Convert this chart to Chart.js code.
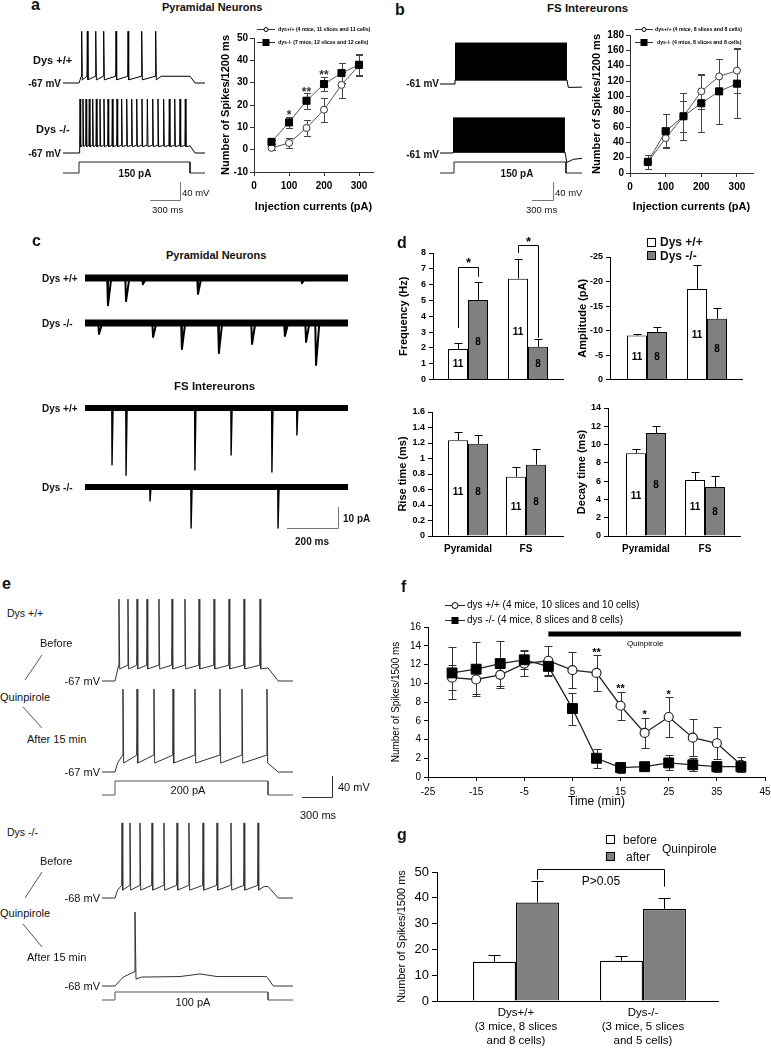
<!DOCTYPE html>
<html><head><meta charset="utf-8">
<script src="https://cdn.jsdelivr.net/npm/chart.js@4.4.1/dist/chart.umd.min.js"></script>
<style>
html,body{margin:0;padding:0;background:#fff;}
body{position:relative;width:771px;height:1049px;overflow:hidden;font-family:"Liberation Sans",Arial,Helvetica,sans-serif;}
canvas{position:absolute;}
.t{position:absolute;white-space:nowrap;line-height:1;color:#111;}
.sq{position:absolute;box-sizing:border-box;border:1px solid #000;width:9px;height:9px;}
svg{position:absolute;left:0;top:0;}
</style></head><body>
<svg width="771" height="1049">
 <g stroke="#777" stroke-width="1" fill="none">
  <path d="M180.5 182 V200.5 H150"/>
  <path d="M553.5 182 V200.5 H532"/>
  <path d="M338.5 507 V528.5 H287"/>
 </g>
 <g stroke="#333" stroke-width="1" fill="none">
  <path d="M332.5 776 V797.5 H302"/>
 </g>
 <g stroke="#555" stroke-width="1" fill="none">
  <line x1="42" y1="655" x2="25" y2="680"/>
  <line x1="23" y1="707" x2="42" y2="728"/>
  <line x1="42" y1="872" x2="25" y2="898"/>
  <line x1="23" y1="924" x2="42" y2="947"/>
 </g>
</svg>
<div class="sq" style="left:647px;top:238px;background:#fff"></div>
<div class="sq" style="left:647px;top:251px;background:#808080"></div>
<div class="sq" style="left:606px;top:835px;background:#fff"></div>
<div class="sq" style="left:606px;top:852px;background:#808080"></div>
<script>
// ================= DATA =================
// (a) pyramidal neurons, spikes / 1200 ms vs injected current
const currentsPA = [50, 100, 150, 200, 250, 300];
const currentTicks = [0, 100, 200, 300];
const pyrWT = [0.8, 3.0, 9.7, 17.9, 29.0, 37.8];
const pyrWTsem = [0.8, 2.3, 3.6, 5.4, 5.7, 4.8];
const pyrKO = [3.5, 12.2, 21.9, 29.4, 34.3, 38.0];
const pyrKOsem = [1.0, 2.5, 3.6, 3.3, 4.5, 4.7];
const pyrYTicks = [-10, 0, 10, 20, 30, 40, 50];
const pyrStars = [[100, 16.7, '*'], [150, 27.2, '**'], [200, 34.9, '**']];
// (b) FS interneurons
const fsWT = [14, 45.5, 74, 106.5, 126, 133.5];
const fsWTsem = [9, 12, 20, 23, 23, 29];
const fsKO = [14.5, 54.5, 74, 91, 106.5, 116.5];
const fsKOsem = [9, 22, 31, 37, 42, 45];
const fsYTicks = [0, 20, 40, 60, 80, 100, 120, 140, 160, 180];
// example voltage traces: spike times (ms after current onset)
const pyrWTSpikeMs = [29, 90, 181, 267, 400, 530, 678, 829];
const pyrKOSpikeMs = [11, 43, 76, 111, 148, 187, 227, 270, 314, 360, 411, 461, 516, 570, 624, 681, 739, 797, 854, 915, 976, 1035, 1092, 1149];
const pyrWTLevels = {rest: -67, thr: -52, ahp: -60, plat: -52, peak: 48};
const pyrKOLevels = {rest: -67, thr: -50, ahp: -53, plat: -51, peak: 53};
const fsWTTrace = {rest: -61, peak: 30, trough: -52, tail: [[1215, -68.5], [1361, -68]]};
const fsKOTrace = {rest: -61, peak: 17, trough: -59, tail: [[1220, -82], [1290, -75], [1383, -73]]};
const stepAB_pA = 150;
// (c) spontaneous events [time ms, amplitude pA]
const pyrWTEvents = [[90, 13], [161, 11], [227, 3], [443, 7.6], [851, 2.5]];
const pyrKOEvents = [[55, 5.2], [267, 6.7], [380, 12.4], [525, 14.3], [655, 10], [784, 6.2], [867, 9], [906, 20]];
const fsWTEvents = [[106, 27], [161, 32], [431, 29.5], [573, 22.4], [733, 30.5], [831, 12.9]];
const fsKOEvents = [[255, 6.7], [416, 19.5], [757, 19.5]];
// (d) event properties
const groupsD = ['Pyramidal', 'FS'];
const freqWT = [1.93, 6.38], freqWTsem = [0.41, 1.23], freqKO = [5.03, 2.07], freqKOsem = [1.14, 0.47];
const ampWT = [-9.0, -18.5], ampWTsem = [0.3, 4.9], ampKO = [-9.7, -12.4], ampKOsem = [1.0, 2.2];
const riseWT = [1.235, 0.765], riseWTsem = [0.105, 0.13], riseKO = [1.19, 0.92], riseKOsem = [0.11, 0.2];
const decayWT = [9.04, 6.13], decayWTsem = [0.48, 0.9], decayKO = [11.27, 5.36], decayKOsem = [0.8, 1.2];
const nWT = [11, 11], nKO = [8, 8];
const freqTicks = [0, 1, 2, 3, 4, 5, 6, 7, 8];
const ampTicks = [-25, -20, -15, -10, -5, 0];
const riseTicks = [0, 0.2, 0.4, 0.6, 0.8, 1, 1.2, 1.4, 1.6];
const decayTicks = [0, 2, 4, 6, 8, 10, 12, 14];
// (e) quinpirole example traces
const eWTBeforeSpikeMs = [39, 127, 216, 314, 431, 559, 686, 824, 971, 1118, 1265, 1422];
const eWTAfterSpikeMs = [78, 216, 382, 569, 784, 1029, 1245, 1490];
const eKOBeforeSpikeMs = [69, 147, 245, 363, 480, 608, 725, 863, 1000, 1137, 1265, 1402];
const eWTBeforeLevels = {rest: -67, thr: -37, ahp: -44, plat: -42, peak: 89};
const eWTAfterLevels = {rest: -67, thr: -35, ahp: -50, plat: -40, peak: 91};
const eKOBeforeLevels = {rest: -68, thr: -44, ahp: -53, plat: -46, peak: 75};
const eKOAfterMs = [-127, 0, 80, 188, 196, 206, 260, 637, 833, 1000, 1487, 1552, 1745];
const eKOAfterMv = [-68, -68, -51, -41, 73, -55, -51, -50, -45, -50, -50, -68, -68];
const stepE1_pA = 200, stepE2_pA = 100;
// (f) time course
const timeMin = [-20, -15, -10, -5, 0, 5, 10, 15, 20, 25, 30, 35, 40];
const timeTicks = [-25, -15, -5, 5, 15, 25, 35, 45];
const quinWT = [10.6, 10.4, 10.9, 12.1, 12.4, 11.4, 11.1, 7.6, 4.7, 6.4, 4.2, 3.6, 1.3];
const quinWTsem = [1.3, 1.5, 1.4, 1.3, 1.6, 1.9, 1.9, 1.5, 1.6, 2.1, 2.0, 1.7, 0.8];
const quinKO = [11.1, 11.5, 12.1, 12.5, 11.8, 7.3, 2.0, 1.0, 1.1, 1.5, 1.3, 1.1, 1.1];
const quinKOsem = [2.8, 2.9, 2.4, 1.0, 0.9, 1.7, 1.0, 0.6, 0.4, 0.8, 0.7, 0.6, 0.6];
const quinTicksY = [0, 2, 4, 6, 8, 10, 12, 14, 16];
const quinStars = [[10, 13.6, '**'], [15, 9.7, '**'], [20, 7.0, '*'], [25, 9.1, '*']];
const quinBarMin = [0, 40], quinBarLevel = 15.25;
// (g) before / after
const groupsG = [['Dys+/+', '(3 mice, 8 slices', 'and 8 cells)'], ['Dys-/-', '(3 mice, 5 slices', 'and 5 cells)']];
const gBefore = [15.2, 15.6], gBeforeSem = [2.6, 1.8];
const gAfter = [38.2, 35.7], gAfterSem = [8.4, 4.1];
const gTicks = [0, 10, 20, 30, 40, 50];

// ================= HELPERS =================
const FAM = '"Liberation Sans", Arial, Helvetica, sans-serif';
Chart.defaults.font.family = FAM;
Chart.defaults.color = '#000';
const xy = (xs, ys) => xs.map((x, i) => ({x, y: ys[i]}));

function mk(L, T, W, H) {
  const c = document.createElement('canvas');
  c.width = W; c.height = H;
  c.style.left = L + 'px'; c.style.top = T + 'px'; c.style.width = W + 'px'; c.style.height = H + 'px';
  document.body.appendChild(c); return c;
}
function common() {
  return {animation: false, responsive: false, events: [], devicePixelRatio: 1,
    plugins: {legend: {display: false}, tooltip: {enabled: false}}};
}
function text(s, x, y, size, bold, align) {
  const d = document.createElement('div'); d.className = 't'; d.textContent = s;
  d.style.font = (bold ? 'bold ' : '') + size + 'px ' + FAM;
  d.style.left = x + 'px'; d.style.top = y + 'px';
  d.style.transform = 'translate(' + (align === 'c' ? '-50%' : align === 'r' ? '-100%' : '0') + ',-50%)';
  document.body.appendChild(d);
}
const crisp = v => Math.round(v) + 0.5;

const extras = {
  id: 'extras',
  beforeDatasetsDraw(ch) { drawErr(ch, false); },
  afterDatasetsDraw(ch) { drawErr(ch, true); drawNotes(ch); }
};
function drawErr(ch, after) {
  const ctx = ch.ctx, ys = ch.scales.y;
  ch.data.datasets.forEach((ds, di) => {
    if (!ds.errors || (!!ds.errAfter) !== after) return;
    const meta = ch.getDatasetMeta(di);
    ctx.save(); ctx.strokeStyle = ds.errColor || '#000'; ctx.lineWidth = 1;
    meta.data.forEach((el, i) => {
      const v = ds.data[i].y, e = ds.errors[i], s = v < 0 ? -1 : 1, cw = (ds.capW || 8) / 2;
      const x = crisp(el.x), yu = crisp(ys.getPixelForValue(v + s * e));
      const y0 = ds.errUp ? el.y : crisp(ys.getPixelForValue(v - s * e));
      ctx.beginPath(); ctx.moveTo(x, y0); ctx.lineTo(x, yu);
      ctx.moveTo(x - cw, yu); ctx.lineTo(x + cw, yu);
      if (!ds.errUp) { ctx.moveTo(x - cw, y0); ctx.lineTo(x + cw, y0); }
      ctx.stroke();
    });
    ctx.restore();
  });
}
function drawNotes(ch) {
  const ex = ch.canvas.$ex || {}, ctx = ch.ctx, xs = ch.scales.x, ys = ch.scales.y;
  ctx.save();
  (ex.stars || []).forEach(s => {
    ctx.font = s.font; ctx.fillStyle = s.color || '#000'; ctx.textAlign = 'center'; ctx.textBaseline = 'alphabetic';
    ctx.fillText(s.t, xs.getPixelForValue(s.x), ys.getPixelForValue(s.y) + 0.58 * s.size);
  });
  (ex.texts || []).forEach(s => {
    ctx.font = s.font; ctx.fillStyle = '#000'; ctx.textAlign = 'center'; ctx.textBaseline = 'middle';
    ctx.fillText(s.t, xs.getPixelForValue(s.x), ys.getPixelForValue(s.y));
  });
  (ex.brackets || []).forEach(b => {
    const xa = crisp(ch.getDatasetMeta(b.a[0]).data[b.a[1]].x), xb = crisp(ch.getDatasetMeta(b.b[0]).data[b.b[1]].x);
    const yt = crisp(ys.getPixelForValue(b.top)), ya = ys.getPixelForValue(b.ya), yb = ys.getPixelForValue(b.yb);
    ctx.strokeStyle = '#000'; ctx.lineWidth = 1;
    ctx.beginPath(); ctx.moveTo(xa, ya); ctx.lineTo(xa, yt); ctx.lineTo(xb, yt); ctx.lineTo(xb, yb); ctx.stroke();
    ctx.font = b.font; ctx.fillStyle = '#000'; ctx.textAlign = 'center';
    const ly = ys.getPixelForValue(b.ly);
    if (b.star) { ctx.textBaseline = 'alphabetic'; ctx.fillText(b.label, (xa + xb) / 2, ly + 0.58 * b.size); }
    else { ctx.textBaseline = 'middle'; ctx.fillText(b.label, (xa + xb) / 2, ly); }
  });
  ch.data.datasets.forEach((ds, di) => {
    if (!ds.nText) return;
    const meta = ch.getDatasetMeta(di);
    ctx.font = 'bold 10px ' + FAM; ctx.fillStyle = '#000'; ctx.textAlign = 'center'; ctx.textBaseline = 'middle';
    meta.data.forEach((el, i) => ctx.fillText(String(ds.nText[i]), el.x, ys.getPixelForValue(ds.nPos[i])));
  });
  const [ox, oy] = ex.origin || [0, 0];
  (ex.legend || []).forEach(it => {
    const x = it.x - ox, y = it.y - oy + 0.5;
    ctx.strokeStyle = it.lc || '#333'; ctx.lineWidth = 1;
    ctx.beginPath(); ctx.moveTo(x - it.hl, y); ctx.lineTo(x + it.hl, y); ctx.stroke();
    if (it.style === 'circle') {
      ctx.beginPath(); ctx.arc(x, y, it.r, 0, Math.PI * 2); ctx.fillStyle = '#fff'; ctx.fill(); ctx.strokeStyle = '#000'; ctx.stroke();
    } else { ctx.fillStyle = '#000'; ctx.fillRect(x - it.r, y - it.r, 2 * it.r, 2 * it.r); }
    ctx.font = it.font; ctx.fillStyle = '#000'; ctx.textAlign = 'left'; ctx.textBaseline = 'middle';
    ctx.fillText(it.text, it.tx - ox, y);
  });
  ctx.restore();
}

function yAx(o) {
  return {type: 'linear', position: 'left', min: o.min, max: o.max, reverse: !!o.rev,
    afterBuildTicks: s => { s.ticks = o.ticks.map(v => ({value: v})); },
    ticks: {font: {family: FAM, size: o.fs, weight: o.fb ? 'bold' : 'normal'}, color: '#000', padding: o.pad ?? 2, callback: v => String(v), autoSkip: false},
    grid: {display: true, drawOnChartArea: false, drawTicks: true, tickLength: o.tl ?? 4, color: o.col || '#000', lineWidth: 1},
    border: {display: true, color: o.col || '#000', width: 1},
    title: {display: !!o.title, text: o.title || '', font: {family: FAM, size: o.ts || 11, weight: o.tb ? 'bold' : 'normal'}, color: '#000', padding: {top: 4, bottom: 0}}};
}
function xAx(o) {
  return {type: 'linear', position: 'bottom', min: o.min, max: o.max, offset: false,
    afterBuildTicks: s => { s.ticks = o.ticks.map(v => ({value: v})); },
    ticks: {display: o.show !== false, font: {family: FAM, size: o.fs || 10, weight: o.fb ? 'bold' : 'normal'}, color: '#000', padding: o.pad ?? 3,
      autoSkip: false, maxRotation: 0, minRotation: 0,
      callback: o.labels ? (v => o.labels[Math.round(v) - 1]) : (v => String(v))},
    grid: o.noGrid ? {display: false, drawTicks: false, tickLength: 0} : {display: true, drawOnChartArea: false, drawTicks: true, tickLength: o.tl ?? 4, color: o.col || '#000', lineWidth: 1},
    border: {display: true, color: o.col || '#000', width: 1},
    title: {display: !!o.title, text: o.title || '', font: {family: FAM, size: o.ts || 11, weight: o.tb ? 'bold' : 'normal'}, color: '#000', padding: {top: 0, bottom: o.tpb ?? 2}}};
}
function axisChart(type, box, area, scales, datasets, ex) {
  const [L, T, W, H] = box, [al, at, ar, ab] = area;
  const c = mk(L, T, W, H);
  c.$ex = Object.assign({origin: [L, T]}, ex || {});
  scales.x.afterFit = s => { s.height = T + H - ab; };
  scales.y.afterFit = s => { s.width = al - L; };
  const o = common();
  o.layout = {padding: {left: 0, top: at - T, right: L + W - ar, bottom: 0}, autoPadding: false};
  o.scales = scales;
  return new Chart(c, {type, data: {datasets}, options: o, plugins: [extras]});
}
// trace chart: xa/ya = [pixel, value, pixels per unit]
function traceChart(box, xa, ya, datasets) {
  const [L, T, W, H] = box; const c = mk(L, T, W, H);
  const o = common();
  o.layout = {padding: 0, autoPadding: false};
  o.spanGaps = false;
  o.scales = {
    x: {type: 'linear', display: false, min: xa[1] - (xa[0] - L) / xa[2], max: xa[1] + (L + W - xa[0]) / xa[2]},
    y: {type: 'linear', display: false, min: ya[1] - (T + H - ya[0]) / ya[2], max: ya[1] + (ya[0] - T) / ya[2]}};
  o.elements = {point: {radius: 0}, line: {tension: 0, borderJoinStyle: 'round'}};
  datasets.forEach(d => { if (d.fill === undefined) d.fill = false; d.pointRadius = 0; });
  return new Chart(c, {type: 'line', data: {datasets}, options: o});
}
const px2t = (px, xa) => xa[1] + (px - xa[0]) / xa[2];
function spikeTrace(sp, lv, t0, t1, off, decay) {
  const p = [{x: t0, y: lv.rest}, {x: 0, y: lv.rest}];
  if (sp[0] > 40) p.push({x: 25, y: lv.ahp});
  sp.forEach(t => { p.push({x: t - 4, y: lv.thr}, {x: t, y: lv.peak}, {x: t + 7, y: lv.ahp}); });
  const last = sp[sp.length - 1];
  if (off - last > 90) p.push({x: last + 60, y: lv.plat});
  if (off - last > 20) p.push({x: off, y: lv.plat});
  p.push({x: off + decay, y: lv.rest}, {x: t1, y: lv.rest});
  return p;
}
function stepData(amp, t0, t1, off) {
  return [{x: t0, y: 0}, {x: 0, y: 0}, {x: 0, y: amp}, {x: off, y: amp}, {x: off, y: 0}, {x: t1, y: 0}];
}
function fsSets(f, t0, off) {
  return [
    {data: [{x: 0, y: f.peak}, {x: off, y: f.peak}], borderColor: '#000', borderWidth: 1, backgroundColor: '#000', fill: '+1'},
    {data: [{x: 0, y: f.trough}, {x: off, y: f.trough}], borderColor: '#000', borderWidth: 1},
    {data: [{x: t0, y: f.rest}, {x: 0, y: f.rest}, {x: 0, y: f.trough}, {x: off, y: f.trough}].concat(f.tail.map(([t, v]) => ({x: t, y: v}))), borderColor: '#000', borderWidth: 1}
  ];
}
function eventSets(ev, t1, rise, decay, band, w) {
  const p = [];
  ev.forEach(([t, a]) => { p.push({x: t - rise, y: 0}, {x: t, y: -a}, {x: t + decay, y: 0}, {x: t + decay + 0.5, y: null}); });
  return [
    {data: [{x: 0, y: 0}, {x: t1, y: 0}], borderColor: '#000', borderWidth: band},
    {data: p, borderColor: '#000', borderWidth: w}
  ];
}

// ================= PANEL a =================
const xaA = [79, 0, 0.0925];
const tA0 = px2t(63, xaA), tA1 = px2t(205, xaA);
traceChart([60, 24, 150, 66], xaA, [83, -67, 0.45], [{data: spikeTrace(pyrWTSpikeMs, pyrWTLevels, tA0, tA1, 1200, 55), borderColor: '#000', borderWidth: 1}]);
traceChart([60, 94, 150, 66], xaA, [153, -67, 0.45], [{data: spikeTrace(pyrKOSpikeMs, pyrKOLevels, tA0, tA1, 1200, 55), borderColor: '#000', borderWidth: 1}]);
traceChart([60, 157, 150, 20], xaA, [173, 0, 0.0733], [{data: stepData(stepAB_pA, tA0, tA1, 1200), borderColor: '#222', borderWidth: 1}]);

axisChart('line', [215, 20, 175, 196], [254, 38, 373, 172], {
  x: xAx({min: 0, max: 340, ticks: currentTicks, fs: 10, fb: true, pad: 4, title: 'Injection currents (pA)', ts: 11, tb: true, col: '#333'}),
  y: yAx({min: -10, max: 50, ticks: pyrYTicks, fs: 10, fb: true, title: 'Number of Spikes/1200 ms', ts: 11, tb: true, col: '#333'})
}, [
  {data: xy(currentsPA, pyrKO), errors: pyrKOsem, errColor: '#444', capW: 7, borderColor: '#555', borderWidth: 1, pointStyle: 'rect', pointRadius: 5, pointBackgroundColor: '#000', pointBorderColor: '#000', pointBorderWidth: 1},
  {data: xy(currentsPA, pyrWT), errors: pyrWTsem, errColor: '#444', capW: 7, borderColor: '#555', borderWidth: 1, pointStyle: 'circle', pointRadius: 3.5, pointBackgroundColor: '#fff', pointBorderColor: '#333', pointBorderWidth: 1}
], {
  stars: pyrStars.map(([x, y, t]) => ({x, y, t, font: 'bold 12px ' + FAM, size: 12, color: '#333'})),
  legend: [
    {x: 266, y: 29, hl: 9, style: 'circle', r: 2, tx: 278, text: 'dys+/+ (4 mice, 11 slices and 11 cells)', font: 'bold 5.2px ' + FAM},
    {x: 266, y: 42, hl: 9, style: 'rect', r: 3.5, tx: 278, text: 'dys-/- (7 mice, 12 slices and 12 cells)', font: 'bold 5.2px ' + FAM}
  ]
});

// ================= PANEL b =================
const xaB1 = [455, 0, 0.0933], xaB2 = [453, 0, 0.0933], xaBS = [454, 0, 0.0933];
traceChart([436, 38, 150, 56], xaB1, [84, -61, 0.45], fsSets(fsWTTrace, px2t(440, xaB1), 1200));
traceChart([436, 112, 150, 56], xaB2, [153, -61, 0.45], fsSets(fsKOTrace, px2t(440, xaB2), 1200));
traceChart([436, 157, 150, 20], xaBS, [173, 0, 0.0733], [{data: stepData(stepAB_pA, px2t(440, xaBS), px2t(582, xaBS), 1200), borderColor: '#222', borderWidth: 1}]);

axisChart('line', [586, 20, 184, 196], [630, 35, 753, 173], {
  x: xAx({min: 0, max: 345, ticks: currentTicks, fs: 10, fb: true, pad: 4, title: 'Injection currents (pA)', ts: 11, tb: true, col: '#333'}),
  y: yAx({min: 0, max: 180, ticks: fsYTicks, fs: 10, fb: true, title: 'Number of Spikes/1200 ms', ts: 11, tb: true, col: '#333'})
}, [
  {data: xy(currentsPA, fsKO), errors: fsKOsem, errColor: '#444', capW: 7, borderColor: '#555', borderWidth: 1, pointStyle: 'rect', pointRadius: 5, pointBackgroundColor: '#000', pointBorderColor: '#000', pointBorderWidth: 1},
  {data: xy(currentsPA, fsWT), errors: fsWTsem, errColor: '#444', capW: 7, borderColor: '#555', borderWidth: 1, pointStyle: 'circle', pointRadius: 3.5, pointBackgroundColor: '#fff', pointBorderColor: '#333', pointBorderWidth: 1}
], {
  legend: [
    {x: 644, y: 29, hl: 9, style: 'circle', r: 2, tx: 655, text: 'dys+/+ (4 mice, 8 slices and 8 cells)', font: 'bold 5.2px ' + FAM},
    {x: 644, y: 42, hl: 9, style: 'rect', r: 3.5, tx: 657, text: 'dys-/- (4 mice, 8 slices and 8 cells)', font: 'bold 5.2px ' + FAM}
  ]
});

// ================= PANEL c =================
const xaC = [85, 0, 0.255], tC1 = px2t(348, xaC);
traceChart([80, 262, 275, 52], xaC, [278, 0, 2.1], eventSets(pyrWTEvents, tC1, 3, 13, 7, 2));
traceChart([80, 310, 275, 60], xaC, [323, 0, 2.1], eventSets(pyrKOEvents, tC1, 3, 13, 7, 2));
traceChart([80, 395, 275, 85], xaC, [408, 0, 2.1], eventSets(fsWTEvents, tC1, 1, 4, 6, 1.4));
traceChart([80, 476, 275, 58], xaC, [487, 0, 2.1], eventSets(fsKOEvents, tC1, 1, 4, 6, 1.4));

// ================= PANEL d =================
function dSets(wt, wtSem, ko, koSem, nPosWT, nPosKO, cat) {
  return [
    {data: xy([1, 2], wt), errors: wtSem, errUp: true, errAfter: true, capW: 8, backgroundColor: '#fff', borderColor: '#000', borderWidth: 1, barPercentage: 1, categoryPercentage: cat, nText: nWT, nPos: nPosWT},
    {data: xy([1, 2], ko), errors: koSem, errUp: true, errAfter: true, capW: 8, backgroundColor: '#808080', borderColor: '#000', borderWidth: 1, barPercentage: 1, categoryPercentage: cat, nText: nKO, nPos: nPosKO}
  ];
}
axisChart('bar', [393, 232, 175, 156], [433, 253, 563, 383], {
  x: xAx({min: 0.417, max: 2.583, ticks: [1, 2], show: false, noGrid: true}),
  y: yAx({min: 0, max: 8, ticks: freqTicks, fs: 9, fb: true, pad: 3, title: 'Frequency (Hz)', ts: 11, tb: true})
}, dSets(freqWT, freqWTsem, freqKO, freqKOsem, [0.98, 3.0], [2.34, 0.98], 40 / 60), {
  brackets: [
    {a: [0, 0], b: [1, 0], top: 7.14, ya: 3.26, yb: 6.5, label: '*', ly: 7.57, star: true, size: 13, font: 'bold 13px ' + FAM},
    {a: [0, 1], b: [1, 1], top: 8.5, ya: 8.0, yb: 2.65, label: '*', ly: 8.95, star: true, size: 13, font: 'bold 13px ' + FAM}
  ]
});
axisChart('bar', [572, 232, 180, 156], [610, 257, 742, 383], {
  x: xAx({min: 0.383, max: 2.583, ticks: [1, 2], show: false, noGrid: true}),
  y: yAx({min: -25, max: 0, rev: true, ticks: ampTicks, fs: 9, fb: true, pad: 3, title: 'Amplitude (pA)', ts: 11, tb: true})
}, dSets(ampWT, ampWTsem, ampKO, ampKOsem, [-4.6, -9.1], [-4.6, -6.2], 40 / 60));
axisChart('bar', [392, 395, 176, 170], [432, 412, 563, 536], {
  x: xAx({min: 0.379, max: 2.638, ticks: [1, 2], labels: groupsD, fs: 10, fb: true, pad: 7, noGrid: true}),
  y: yAx({min: 0, max: 1.6, ticks: riseTicks, fs: 9, fb: true, pad: 3, title: 'Rise time (ms)', ts: 11, tb: true})
}, dSets(riseWT, riseWTsem, riseKO, riseKOsem, [0.57, 0.37], [0.57, 0.44], 40 / 58));
axisChart('bar', [571, 395, 181, 170], [608, 408, 740, 536], {
  x: xAx({min: 0.356, max: 2.593, ticks: [1, 2], labels: groupsD, fs: 10, fb: true, pad: 7, noGrid: true}),
  y: yAx({min: 0, max: 14, ticks: decayTicks, fs: 9, fb: true, pad: 3, title: 'Decay time (ms)', ts: 11, tb: true})
}, dSets(decayWT, decayWTsem, decayKO, decayKOsem, [4.3, 3.1], [5.6, 2.6], 40 / 59));

// ================= PANEL e =================
const xaE = [115, 0, 0.102];
const tE0 = px2t(102, xaE), tE1 = px2t(293, xaE);
traceChart([98, 594, 200, 92], xaE, [681, -67, 0.525], [{data: spikeTrace(eWTBeforeSpikeMs, eWTBeforeLevels, tE0, tE1, 1500, 100), borderColor: '#333', borderWidth: 1}]);
traceChart([98, 684, 200, 92], xaE, [772, -67, 0.525], [{data: spikeTrace(eWTAfterSpikeMs, eWTAfterLevels, tE0, tE1, 1500, 100), borderColor: '#333', borderWidth: 1}]);
traceChart([98, 776, 200, 24], xaE, [795, 0, 0.07], [{data: stepData(stepE1_pA, tE0, tE1, 1500), borderColor: '#555', borderWidth: 1}]);
traceChart([98, 818, 200, 85], xaE, [898, -68, 0.525], [{data: spikeTrace(eKOBeforeSpikeMs, eKOBeforeLevels, tE0, tE1, 1500, 100), borderColor: '#333', borderWidth: 1}]);
traceChart([98, 906, 200, 85], xaE, [986, -68, 0.525], [{data: xy(eKOAfterMs, eKOAfterMv), borderColor: '#333', borderWidth: 1}]);
traceChart([98, 985, 200, 20], xaE, [1000, 0, 0.08], [{data: stepData(stepE2_pA, tE0, tE1, 1500), borderColor: '#555', borderWidth: 1}]);

// ================= PANEL f =================
axisChart('line', [386, 595, 394, 215], [428, 627, 765, 777], {
  x: xAx({min: -25, max: 45, ticks: timeTicks, fs: 10, pad: 5, title: 'Time (min)', ts: 12, tpb: 1}),
  y: yAx({min: 0, max: 16, ticks: quinTicksY, fs: 10, pad: 3, title: 'Number of Spikes/1500 ms', ts: 10})
}, [
  {data: xy(timeMin, quinKO), errors: quinKOsem, errColor: '#333', capW: 8, borderColor: '#222', borderWidth: 1.3, pointStyle: 'rect', pointRadius: 7, pointBackgroundColor: '#000', pointBorderColor: '#000', pointBorderWidth: 1},
  {data: xy(timeMin, quinWT), errors: quinWTsem, errColor: '#333', capW: 8, borderColor: '#222', borderWidth: 1.3, pointStyle: 'circle', pointRadius: 4.5, pointBackgroundColor: '#fff', pointBorderColor: '#222', pointBorderWidth: 1.2},
  {data: quinBarMin.map(x => ({x, y: quinBarLevel})), borderColor: '#000', borderWidth: 5, pointRadius: 0}
], {
  stars: quinStars.map(([x, y, t]) => ({x, y, t, font: 'bold 11px ' + FAM, size: 11})),
  texts: [{x: 20.1, y: 14.2, t: 'Quinpirole', font: '8px ' + FAM}],
  legend: [
    {x: 455, y: 605, hl: 10, style: 'circle', r: 3, tx: 467, lc: '#222', text: 'dys +/+ (4 mice, 10 slices and 10 cells)', font: '10px ' + FAM},
    {x: 455, y: 620, hl: 10, style: 'rect', r: 3.5, tx: 467, lc: '#222', text: 'dys -/- (4 mice, 8 slices and 8 cells)', font: '10px ' + FAM}
  ]
});

// ================= PANEL g =================
axisChart('bar', [391, 845, 339, 204], [437, 872, 718, 1001], {
  x: xAx({min: 0.378, max: 2.591, ticks: [1, 2], labels: groupsG, fs: 11.5, pad: 5, noGrid: true}),
  y: yAx({min: 0, max: 50, ticks: gTicks, fs: 13, pad: 3, tl: 5, title: 'Number of Spikes/1500 ms', ts: 11})
}, [
  {data: xy([1, 2], gBefore), errors: gBeforeSem, errUp: true, errAfter: true, capW: 12, backgroundColor: '#fff', borderColor: '#000', borderWidth: 1.3, barPercentage: 1, categoryPercentage: 86 / 127},
  {data: xy([1, 2], gAfter), errors: gAfterSem, errUp: true, errAfter: true, capW: 12, backgroundColor: '#808080', borderColor: '#000', borderWidth: 1.3, barPercentage: 1, categoryPercentage: 86 / 127}
], {
  brackets: [{a: [1, 0], b: [1, 1], top: 51.0, ya: 47.1, yb: 44.3, label: 'P>0.05', ly: 46.1, font: '12px ' + FAM}]
});

// ================= TEXT =================
[
 ['a', 31, 5, 16, 1, 'l'], ['Pyramidal Neurons', 162, 7, 11, 1, 'l'],
 ['Dys +/+', 33, 60, 11, 1, 'l'], ['-67 mV', 61, 83, 10, 1, 'r'],
 ['Dys -/-', 36, 129, 11, 1, 'l'], ['-67 mV', 61, 153, 10, 1, 'r'],
 ['150 pA', 135, 173, 10, 1, 'c'], ['40 mV', 182, 192, 9.5, 0, 'l'], ['300 ms', 152, 209, 9.5, 0, 'l'],
 ['b', 395, 10, 16, 1, 'l'], ['FS Intereurons', 547, 8, 11.5, 1, 'l'],
 ['-61 mV', 439, 83, 10, 1, 'r'], ['-61 mV', 439, 154, 10, 1, 'r'],
 ['150 pA', 517, 173, 10, 1, 'c'], ['40 mV', 555, 192, 9.5, 0, 'l'], ['300 ms', 526, 209, 9.5, 0, 'l'],
 ['c', 32, 241, 16, 1, 'l'], ['Pyramidal Neurons', 166, 255, 11, 1, 'l'],
 ['Dys +/+', 42, 278, 10, 1, 'l'], ['Dys -/-', 42, 323, 10, 1, 'l'],
 ['FS Intereurons', 174, 386, 11.5, 1, 'l'],
 ['Dys +/+', 42, 408, 10, 1, 'l'], ['Dys -/-', 42, 487, 10, 1, 'l'],
 ['10 pA', 343, 518, 10, 1, 'l'], ['200 ms', 312, 541, 10, 1, 'c'],
 ['d', 397, 243, 16, 1, 'l'], ['Dys +/+', 660, 242, 12, 1, 'l'], ['Dys -/-', 660, 256, 12, 1, 'l'],
 ['e', 2, 584, 16, 1, 'l'], ['Dys +/+', 7, 613, 10.5, 0, 'l'], ['Before', 40, 643, 11, 0, 'l'],
 ['Quinpirole', 0, 697, 11, 0, 'l'], ['After 15 min', 27, 739, 11, 0, 'l'],
 ['-67 mV', 100, 681, 11, 0, 'r'], ['-67 mV', 100, 772, 11, 0, 'r'],
 ['200 pA', 188, 790, 11, 0, 'c'], ['40 mV', 338, 787, 11, 0, 'l'], ['300 ms', 300, 815, 11, 0, 'l'],
 ['Dys -/-', 7, 832, 10.5, 0, 'l'], ['Before', 40, 861, 11, 0, 'l'],
 ['Quinpirole', 0, 913, 11, 0, 'l'], ['After 15 min', 27, 957, 11, 0, 'l'],
 ['-68 mV', 100, 898, 11, 0, 'r'], ['-68 mV', 100, 986, 11, 0, 'r'], ['100 pA', 193, 1002, 11, 0, 'c'],
 ['f', 401, 587, 16, 1, 'l'], ['g', 397, 835, 16, 1, 'l'],
 ['before', 623, 840, 12, 0, 'l'], ['after', 626, 857, 12, 0, 'l'], ['Quinpirole', 662, 849, 12, 0, 'l']
].forEach(a => text(a[0], a[1], a[2], a[3], a[4], a[5]));
</script>
</body></html>
